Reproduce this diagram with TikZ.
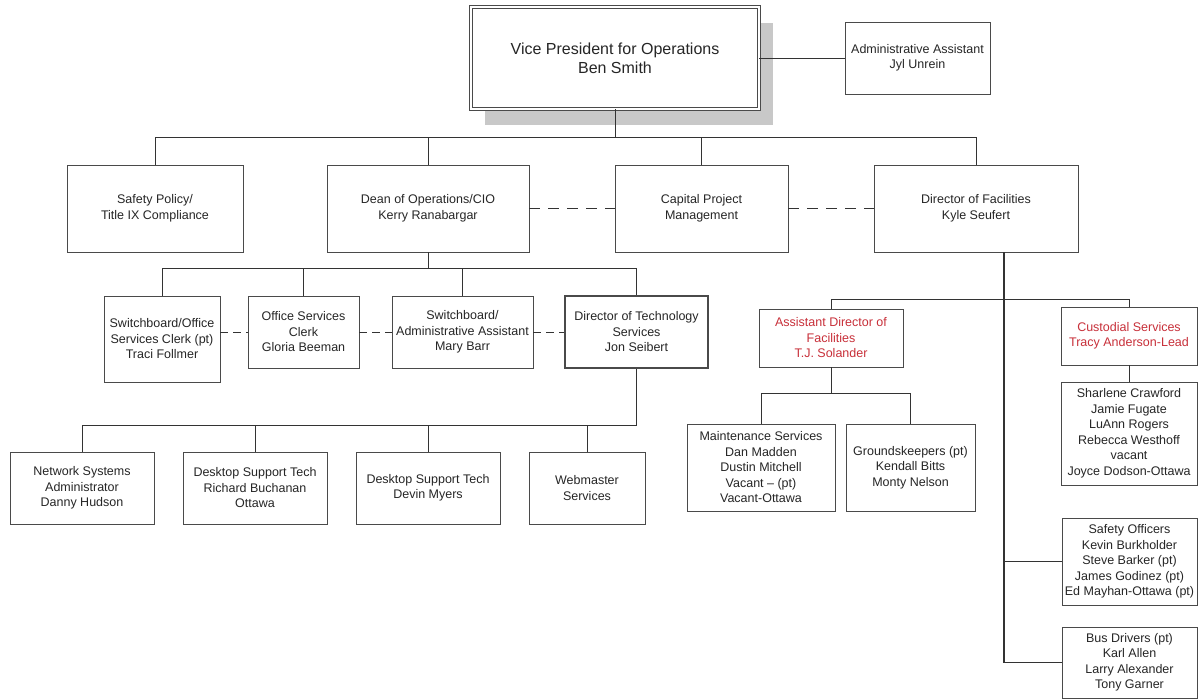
\documentclass[tikz,border=0pt]{standalone}
\usepackage{fontspec}
\setmainfont{Liberation Sans}
\usetikzlibrary{shadows}

\definecolor{edgegray}{HTML}{4A4A4A}
\definecolor{linegray}{HTML}{333333}
\definecolor{txtgray}{HTML}{262626}
\definecolor{leadred}{HTML}{C8303A}
\definecolor{shadowgray}{HTML}{C8C8C8}

\newcommand{\orgsize}{\fontsize{12.5pt}{15.5pt}\selectfont}
\newcommand{\vpsize}{\fontsize{16pt}{18.6pt}\selectfont}

\begin{document}
\begin{tikzpicture}[x=1pt,y=-1pt,
		unit/.style={draw=edgegray,fill=white,line width=0.75pt,align=center,inner sep=2pt,text=txtgray,font=\orgsize},
		lead/.style={text=leadred},
		link/.style={draw=linegray,line width=0.9pt},
		trunk/.style={link,line width=1.6pt},
		dashlink/.style={link,dash pattern=on 11pt off 8pt},
		shortdash/.style={link,dash pattern=on 8pt off 5pt}]
		\path[use as bounding box,fill=white] (0,0) rectangle (1198,700);
		% top
		\node[unit,minimum width=288pt,minimum height=102pt,double=white,double distance=2pt,font=\vpsize,
			drop shadow={shadow xshift=14pt,shadow yshift=-16pt,fill=shadowgray,opacity=1}] (vp) at (615,58) {Vice President for Operations\\Ben Smith};
		\node[unit,minimum width=145pt,minimum height=72pt] (asst) at (917.5,58) {Administrative Assistant\\Jyl Unrein};
		% second row
		\node[unit,minimum width=176pt,minimum height=87pt] (safety) at (155,208.5) {Safety Policy/\\Title IX Compliance};
		\node[unit,minimum width=202pt,minimum height=87pt] (dean) at (428,208.5) {Dean of Operations/CIO\\Kerry Ranabargar};
		\node[unit,minimum width=173pt,minimum height=87pt] (capital) at (701.5,208.5) {Capital Project\\Management};
		\node[unit,minimum width=204pt,minimum height=87pt] (facil) at (976,208.5) {Director of Facilities\\Kyle Seufert};
		% under the dean
		\node[unit,minimum width=116pt,minimum height=86pt] (sw) at (162,339) {Switchboard/Office\\Services Clerk (pt)\\Traci Follmer};
		\node[unit,minimum width=111pt,minimum height=72pt] (office) at (303.5,332) {Office Services\\Clerk\\Gloria Beeman};
		\node[unit,minimum width=141pt,minimum height=72pt] (swadm) at (462.5,332) {Switchboard/\\Administrative Assistant\\Mary Barr};
		\node[unit,minimum width=143pt,minimum height=72pt,line width=1.3pt] (tech) at (636.5,332) {Director of Technology\\Services\\Jon Seibert};
		\node[unit,minimum width=144pt,minimum height=72pt] (net) at (82,488) {Network Systems\\Administrator\\Danny Hudson};
		\node[unit,minimum width=144pt,minimum height=72pt] (rich) at (255,488) {Desktop Support Tech\\Richard Buchanan\\Ottawa};
		\node[unit,minimum width=144pt,minimum height=72pt] (devin) at (428,488) {Desktop Support Tech\\Devin Myers};
		\node[unit,minimum width=116pt,minimum height=72pt] (web) at (587,488) {Webmaster\\Services};
		% under facilities
		\node[unit,lead,minimum width=144pt,minimum height=58pt] (adir) at (831,338) {Assistant Director of\\Facilities\\T.J. Solander};
		\node[unit,lead,minimum width=136pt,minimum height=58pt] (cust) at (1129,336) {Custodial Services\\Tracy Anderson-Lead};
		\node[unit,minimum width=136pt,minimum height=103pt] (staff) at (1129,433.5) {Sharlene Crawford\\Jamie Fugate\\LuAnn Rogers\\Rebecca Westhoff\\vacant\\Joyce Dodson-Ottawa};
		\node[unit,minimum width=148pt,minimum height=87pt] (maint) at (761,467.5) {Maintenance Services\\Dan Madden\\Dustin Mitchell\\Vacant -- (pt)\\Vacant-Ottawa};
		\node[unit,minimum width=129pt,minimum height=87pt] (grounds) at (910.5,467.5) {Groundskeepers (pt)\\Kendall Bitts\\Monty Nelson};
		\node[unit,minimum width=135pt,minimum height=87pt] (safeoff) at (1129.5,561.5) {Safety Officers\\Kevin Burkholder\\Steve Barker (pt)\\James Godinez (pt)\\Ed Mayhan-Ottawa (pt)};
		\node[unit,minimum width=135pt,minimum height=71pt] (busdrv) at (1129.5,662.5) {Bus Drivers (pt)\\Karl Allen\\Larry Alexander\\Tony Garner};

		% connectors
		\coordinate (bus1) at (0,137);
		\draw[link] (vp.east) -- (asst.west);
		\draw[link] (vp.south) -- (vp.south |- bus1);
		\draw[link] (safety.north) |- (facil.north |- bus1) -- (facil.north);
		\draw[link] (dean.north) -- (dean.north |- bus1);
		\draw[link] (capital.north) -- (capital.north |- bus1);
		\draw[dashlink] (dean.east) -- (capital.west);
		\draw[dashlink] (capital.east) -- (facil.west);

		\coordinate (bus2) at (0,268);
		\draw[link] (dean.south) -- (dean.south |- bus2);
		\draw[link] (sw.north) |- (tech.north |- bus2) -- (tech.north);
		\draw[link] (office.north) -- (office.north |- bus2);
		\draw[link] (swadm.north) -- (swadm.north |- bus2);
		\draw[shortdash] (sw.east |- office.west) -- (office.west);
		\draw[shortdash] (office.east) -- (swadm.west);
		\draw[shortdash] (swadm.east) -- (tech.west);

		\coordinate (bus3) at (0,425);
		\draw[link] (tech.south) -- (tech.south |- bus3);
		\draw[link] (net.north) |- (tech.south |- bus3);
		\draw[link] (rich.north) -- (rich.north |- bus3);
		\draw[link] (devin.north) -- (devin.north |- bus3);
		\draw[link] (web.north) -- (web.north |- bus3);

		\coordinate (ftrunk) at ([xshift=28pt]facil.south);
		\draw[trunk] (ftrunk) -- (ftrunk |- busdrv.west);
		\draw[link] (ftrunk |- busdrv.west) -- (busdrv.west);
		\draw[link] (ftrunk |- safeoff.west) -- (safeoff.west);
		\coordinate (bus4) at (0,299);
		\draw[link] (adir.north) |- (cust.north |- bus4) -- (cust.north);
		\draw[link] (cust.south) -- (staff.north);
		\coordinate (bus5) at (0,393);
		\draw[link] (adir.south) -- (adir.south |- bus5);
		\draw[link] (maint.north) |- (grounds.north |- bus5) -- (grounds.north);
	\end{tikzpicture}
\end{document}
